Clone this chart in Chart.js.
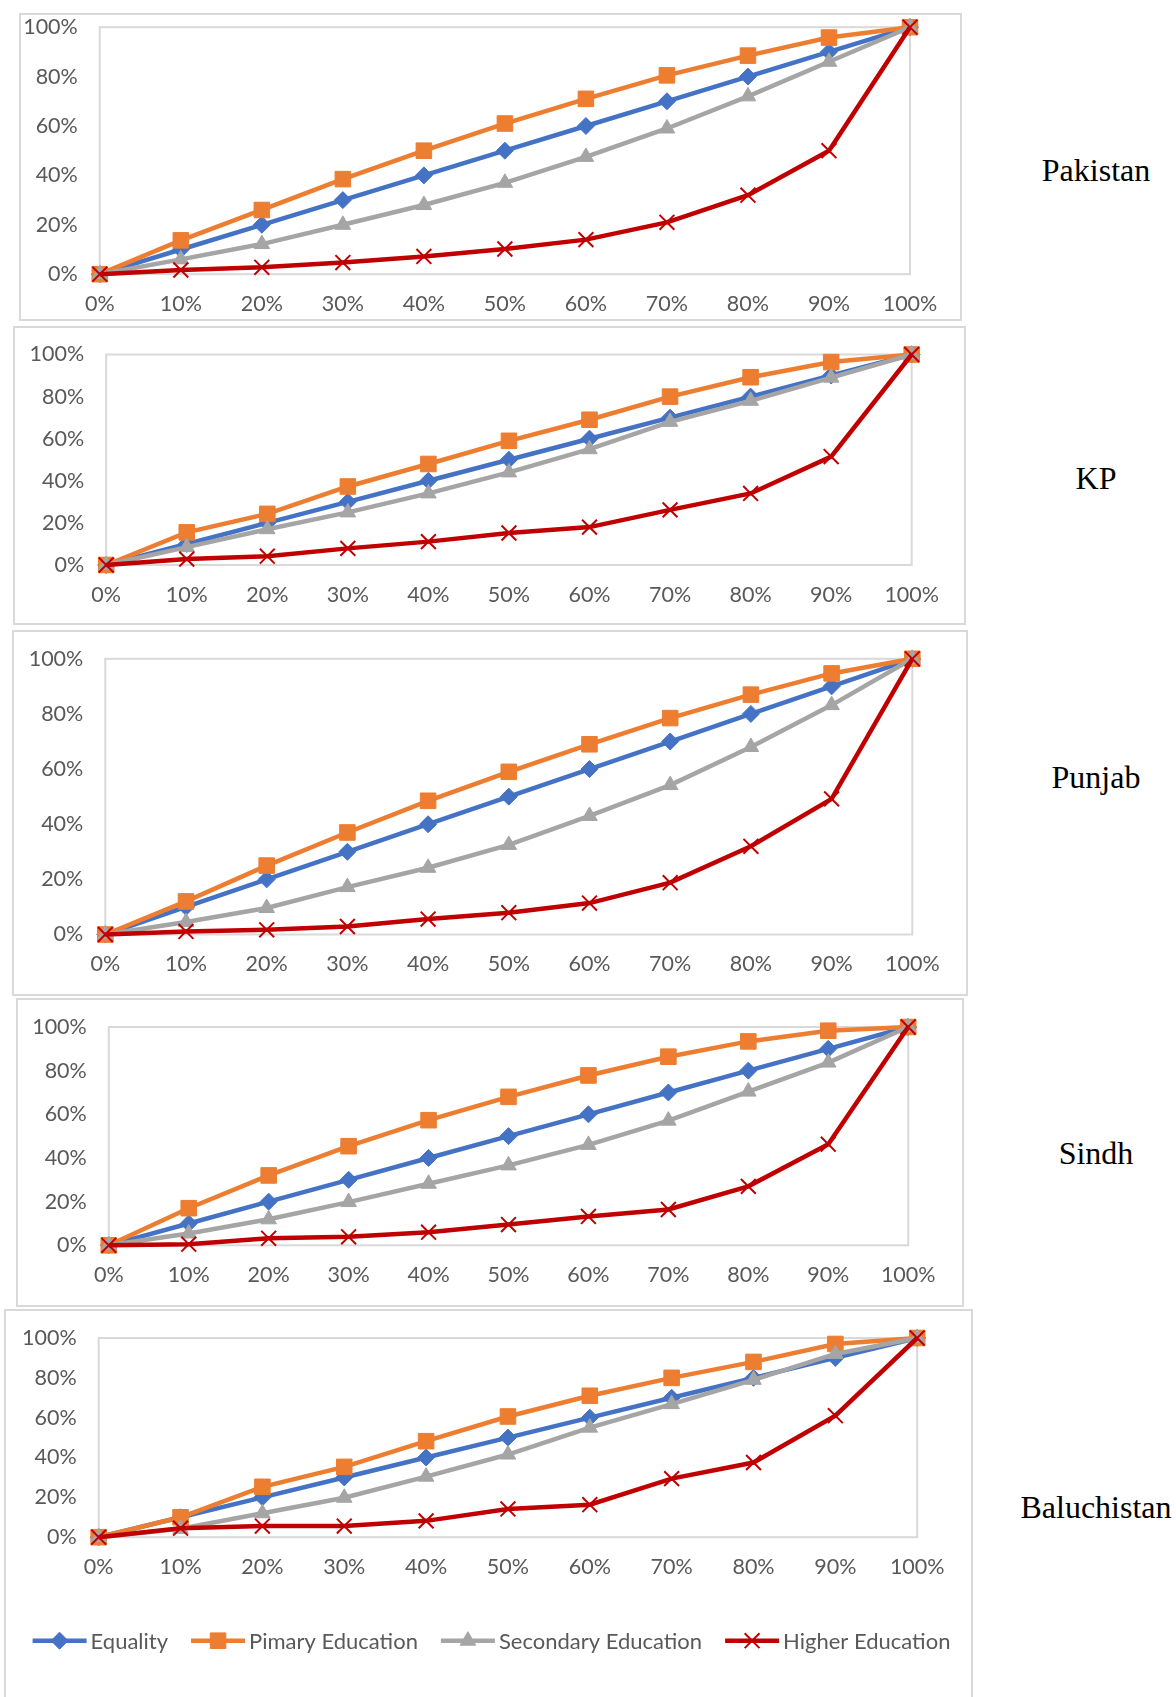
<!DOCTYPE html>
<html>
<head>
<meta charset="utf-8">
<title>Lorenz curves of education by region</title>
<script src="https://cdn.jsdelivr.net/npm/chart.js@4.4.1/dist/chart.umd.min.js"></script>
<style>
  html, body { margin: 0; padding: 0; background: #fff; }
  body { width: 1176px; height: 1697px; position: relative; overflow: hidden; }
  .panel { position: absolute; box-sizing: border-box; border: 2px solid #D9D9D9; background: transparent; }
  .panel canvas { position: absolute; left: -2px; top: -2px; }
  .region { position: absolute; font-family: "Liberation Serif", "Times New Roman", serif; font-size: 32px;
            color: #000; transform: translate(-50%, -50%); white-space: nowrap; }
</style>
</head>
<body>
<script>
// Cumulative population share (x) and cumulative share of schooling (y), in percent
const deciles = ['0%', '10%', '20%', '30%', '40%', '50%', '60%', '70%', '80%', '90%', '100%'];
const regions = ['Pakistan', 'KP', 'Punjab', 'Sindh', 'Baluchistan'];
const seriesNames = ['Equality', 'Pimary Education', 'Secondary Education', 'Higher Education'];

const equality = [0, 10, 20, 30, 40, 50, 60, 70, 80, 90, 100];

const pakistanPrimary   = [0, 13.7, 26, 38.5, 50, 61, 71, 80.5, 88.5, 95.8, 100];
const pakistanSecondary = [0, 6, 12.2, 20, 28, 37, 47.5, 59, 72, 86, 100];
const pakistanHigher    = [0, 1.7, 2.8, 4.7, 7.2, 10.2, 14, 21, 32, 50, 100];

const kpPrimary   = [0, 15.5, 24.3, 37.3, 48, 59, 69, 80, 89.2, 96.4, 100];
const kpSecondary = [0, 8.5, 17, 25, 34, 44, 55, 68, 78, 89, 100];
const kpHigher    = [0, 2.8, 4.2, 7.9, 11.1, 15.2, 18, 26.2, 34, 51.5, 100];

const punjabPrimary   = [0, 12, 25, 37, 48.5, 59, 69, 78.5, 87, 94.7, 100];
const punjabSecondary = [0, 4.5, 9.6, 17.2, 24.2, 32.5, 43, 54.2, 68, 83.2, 100];
const punjabHigher    = [0, 1.1, 1.7, 2.9, 5.6, 7.9, 11.4, 18.8, 32, 49.2, 100];

const sindhPrimary   = [0, 17, 32, 45.4, 57.3, 68, 77.8, 86.4, 93.4, 98.3, 100];
const sindhSecondary = [0, 5.4, 11.9, 19.8, 28.2, 36.6, 46, 57.1, 70.4, 83.7, 100];
const sindhHigher    = [0, 0.5, 3.2, 3.9, 6, 9.5, 13.2, 16.4, 27, 46.3, 100];

const baluchistanPrimary   = [0, 10, 25.3, 35.3, 48.2, 60.6, 71, 80, 88, 97, 100];
const baluchistanSecondary = [0, 4.2, 12, 19.8, 30.4, 41.5, 55, 66.8, 79, 92, 100];
const baluchistanHigher    = [0, 4.5, 5.6, 5.6, 8.2, 14.2, 16.3, 29.4, 37.5, 61, 100];

const regionSeries = [
  [equality, pakistanPrimary, pakistanSecondary, pakistanHigher],
  [equality, kpPrimary, kpSecondary, kpHigher],
  [equality, punjabPrimary, punjabSecondary, punjabHigher],
  [equality, sindhPrimary, sindhSecondary, sindhHigher],
  [equality, baluchistanPrimary, baluchistanSecondary, baluchistanHigher]
];

// Series styling (line colour and marker)
const seriesStyles = [
  { color: '#4472C4', pointStyle: 'rectRot',  radius: 8.5,  pointBorder: 1 },
  { color: '#ED7D31', pointStyle: 'rect',     radius: 11,   pointBorder: 1 },
  { color: '#A5A5A5', pointStyle: 'triangle', radius: 9,    pointBorder: 1 },
  { color: '#C00000', pointStyle: 'crossRot', radius: 10.5, pointBorder: 2 }
];
const lineWidth = 4.5;

// Page geometry: outer frame and plot area of each panel [left, top, right, bottom]
const frames = [
  { box: [18.5, 13.3, 961.7, 321],   plot: [99.3, 27.5, 909.5, 274.5], labelY: 170 },
  { box: [13.3, 326, 966, 625],      plot: [106.5, 354.5, 912, 565],   labelY: 478 },
  { box: [11.7, 629.5, 968, 995],    plot: [105, 658.3, 912, 934],     labelY: 777 },
  { box: [15.5, 997.7, 963, 1307],   plot: [108.3, 1026.7, 907.7, 1245], labelY: 1153 },
  { box: [4.3, 1309.3, 973.7, 1702], plot: [99, 1338.3, 917.5, 1537.5], labelY: 1507 }
];
const labelX = 1096;
const legendCenterY = 1641;

const tickFont = { family: 'Lato, "Open Sans", sans-serif', size: 21.5 };
const tickColor = '#595959';

// Light grey rectangle round the plot area
const plotFrame = {
  id: 'plotFrame',
  beforeDatasetsDraw(chart) {
    const a = chart.chartArea, ctx = chart.ctx;
    ctx.save();
    ctx.strokeStyle = '#D9D9D9';
    ctx.lineWidth = 2;
    ctx.strokeRect(a.left, a.top, a.right - a.left, a.bottom - a.top);
    ctx.restore();
  }
};

// Edge labels may overhang the frame; the panels already leave room for them
function dropEdgePadding(scale) {
  scale.paddingTop = 0;
  scale.paddingBottom = 0;
  scale.paddingLeft = 0;
  scale.paddingRight = 0;
}

function drawMarker(ctx, style, x, y) {
  ctx.fillStyle = style.color;
  ctx.strokeStyle = style.color;
  ctx.lineWidth = style.pointBorder;
  Chart.helpers.drawPoint(ctx, { pointStyle: style.pointStyle, rotation: 0, radius: style.radius, borderWidth: style.pointBorder }, x, y);
}

// Legend along the bottom: a short line with the series marker, then the name
function makeLegendPlugin(legendY) {
  return {
    id: 'lineLegend',
    afterDraw(chart) {
      const ctx = chart.ctx;
      ctx.save();
      ctx.font = '22px Lato, "Open Sans", sans-serif';
      const lineLen = 54, textGap = 4, itemGap = 23;
      const widths = seriesNames.map(n => lineLen + textGap + ctx.measureText(n).width);
      const total = widths.reduce((s, w) => s + w, 0) + itemGap * (widths.length - 1);
      let x = chart.width / 2 + 3 - total / 2;
      seriesNames.forEach((name, i) => {
        const st = seriesStyles[i];
        ctx.strokeStyle = st.color;
        ctx.lineWidth = lineWidth;
        ctx.beginPath();
        ctx.moveTo(x, legendY);
        ctx.lineTo(x + lineLen, legendY);
        ctx.stroke();
        drawMarker(ctx, st, x + lineLen / 2, legendY);
        ctx.fillStyle = tickColor;
        ctx.textAlign = 'left';
        ctx.textBaseline = 'middle';
        ctx.fillText(name, x + lineLen + textGap, legendY + 1);
        x += widths[i] + itemGap;
      });
      ctx.restore();
    }
  };
}

function buildPanel(i) {
  const f = frames[i];
  const [bl, bt, br, bb] = f.box;
  const w = Math.round(br - bl), h = Math.round(bb - bt);
  const panel = document.createElement('div');
  panel.className = 'panel';
  panel.style.left = bl + 'px';
  panel.style.top = bt + 'px';
  panel.style.width = w + 'px';
  panel.style.height = h + 'px';
  const canvas = document.createElement('canvas');
  canvas.width = w;
  canvas.height = h;
  canvas.style.width = w + 'px';
  canvas.style.height = h + 'px';
  panel.appendChild(canvas);
  document.body.appendChild(panel);

  const label = document.createElement('div');
  label.className = 'region';
  label.textContent = regions[i];
  label.style.left = labelX + 'px';
  label.style.top = f.labelY + 'px';
  document.body.appendChild(label);

  const target = {
    left: f.plot[0] - bl, top: f.plot[1] - bt,
    right: f.plot[2] - bl, bottom: f.plot[3] - bt
  };

  const datasets = regionSeries[i].map((values, k) => {
    const st = seriesStyles[k];
    return {
      label: seriesNames[k],
      data: values,
      borderColor: st.color,
      backgroundColor: st.color,
      borderWidth: lineWidth,
      tension: 0,
      pointStyle: st.pointStyle,
      pointRadius: st.radius,
      pointBorderWidth: st.pointBorder,
      pointBackgroundColor: st.color,
      pointBorderColor: st.color,
      order: 3 - k,
      clip: false
    };
  });

  const plugins = [plotFrame];
  if (i === frames.length - 1) plugins.push(makeLegendPlugin(legendCenterY - bt));

  const chart = new Chart(canvas, {
    type: 'line',
    data: { labels: deciles, datasets },
    options: {
      responsive: false,
      animation: false,
      events: [],
      layout: { padding: { left: 0, top: target.top, right: w - target.right, bottom: 0 } },
      plugins: { legend: { display: false }, tooltip: { enabled: false } },
      scales: {
        x: {
          offset: false,
          grid: { display: false, drawTicks: false },
          border: { display: false },
          ticks: { color: tickColor, font: tickFont, padding: 17, maxRotation: 0, autoSkip: false },
          afterFit: dropEdgePadding
        },
        y: {
          min: 0, max: 100,
          grid: { display: false, drawTicks: false },
          border: { display: false },
          ticks: { stepSize: 20, color: tickColor, font: tickFont, padding: 22, callback: v => v + '%' },
          afterFit: dropEdgePadding
        }
      }
    },
    plugins
  });

  // Nudge the layout padding until the plot area sits where the frame says
  for (let pass = 0; pass < 4; pass++) {
    const a = chart.chartArea;
    const p = Object.assign({}, chart.options.layout.padding);
    p.left += target.left - a.left;
    p.top += target.top - a.top;
    p.right += a.right - target.right;
    p.bottom += a.bottom - target.bottom;
    chart.options.layout.padding = p;
    chart.update('none');
  }
  return chart;
}

regions.forEach((_, i) => buildPanel(i));
</script>
</body>
</html>
